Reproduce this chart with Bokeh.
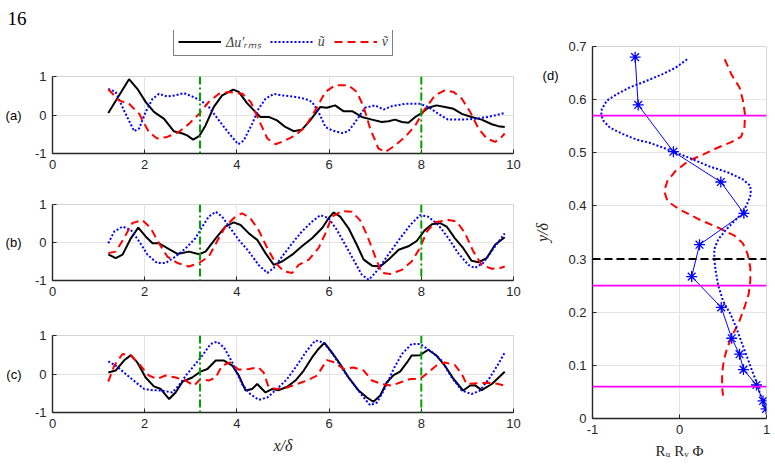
from bokeh.plotting import figure
from bokeh.layouts import row, column
from bokeh.models import Range1d, FixedTicker, Span, Label, Legend, LegendItem, LinearAxis
from bokeh.embed import file_html
from bokeh.resources import INLINE

# ---------------- data ----------------
X_TICKS = [0, 2, 4, 6, 8, 10]
Y_TICKS = [-1, 0, 1]
Y_TICK_LABELS = ["-1", "0", "1"]
MARK_X = [3.2, 8.0]
PANEL_NAMES = ["(a)", "(b)", "(c)", "(d)"]
SERIES_NAMES = ["Δu′ᵣₘₛ", "ũ", "ṽ"]
FIG_NUMBER = "16"

A_dU_x = [1.21,1.66,1.84,2.02,2.20,2.42,2.63,2.82,2.92,3.05,3.18,3.32,3.50,3.68,3.92,4.04,4.22,4.40,4.51,4.69,4.87,5.05,5.23,5.41,5.59,5.81,5.95,6.13,6.31,6.50,6.71,6.93,7.14,7.29,7.43,7.58,7.72,7.87,8.01,8.15,8.33,8.51,8.70,8.88,9.09,9.31,9.53,9.67,9.81]
A_dU_y = [0.05,0.93,0.68,0.34,0.08,-0.10,-0.42,-0.48,-0.53,-0.64,-0.55,-0.27,0.21,0.51,0.66,0.60,0.31,0.08,-0.05,-0.05,-0.14,-0.31,-0.42,-0.38,-0.14,0.21,0.19,0.25,0.10,0.10,-0.05,-0.12,-0.18,-0.16,-0.12,-0.18,-0.20,-0.05,0.05,0.19,0.25,0.21,0.16,0.03,-0.05,-0.12,-0.24,-0.29,-0.31]
A_u_x = [1.21,1.37,1.55,1.77,1.88,2.02,2.17,2.31,2.49,2.67,2.85,3.03,3.21,3.39,3.61,3.83,4.03,4.15,4.33,4.47,4.62,4.80,4.98,5.27,5.48,5.63,5.77,5.92,6.06,6.28,6.42,6.57,6.78,7.00,7.18,7.36,7.65,7.97,8.15,8.37,8.58,8.88,9.17,9.45,9.81]
A_u_y = [0.68,0.60,0.12,-0.42,-0.35,0.08,0.42,0.55,0.48,0.51,0.57,0.48,0.38,0.21,-0.14,-0.48,-0.76,-0.66,-0.23,0.16,0.42,0.55,0.51,0.47,0.42,0.34,0.08,-0.31,-0.40,-0.47,-0.42,-0.18,0.19,0.25,0.14,0.23,0.29,0.29,0.21,0.03,-0.12,-0.12,-0.10,-0.05,0.05]
A_v_x = [1.21,1.44,1.66,1.88,2.09,2.27,2.49,2.74,2.96,3.18,3.39,3.61,3.83,4.12,4.30,4.48,4.66,4.84,5.05,5.27,5.48,5.70,5.92,6.13,6.42,6.60,6.75,6.89,7.07,7.22,7.43,7.65,7.87,8.08,8.30,8.51,8.70,8.88,9.06,9.24,9.42,9.60,9.71,9.81]
A_v_y = [0.67,0.38,0.29,0.03,-0.44,-0.61,-0.57,-0.44,-0.23,0.03,0.34,0.55,0.60,0.55,0.34,-0.14,-0.61,-0.76,-0.66,-0.53,-0.31,0.12,0.60,0.77,0.77,0.60,0.21,-0.35,-0.87,-0.96,-0.79,-0.57,-0.27,0.16,0.51,0.64,0.60,0.42,0.08,-0.35,-0.61,-0.70,-0.61,-0.48]

B_dU_x = [1.21,1.37,1.52,1.70,1.86,2.02,2.17,2.31,2.49,2.71,2.96,3.18,3.32,3.54,3.75,3.93,4.08,4.26,4.44,4.62,4.80,4.98,5.20,5.41,5.63,5.85,5.99,6.10,6.24,6.42,6.60,6.75,6.93,7.11,7.29,7.51,7.72,7.90,8.08,8.23,8.41,8.55,8.73,8.91,9.09,9.24,9.42,9.60,9.81]
B_dU_y = [-0.31,-0.41,-0.32,0.11,0.39,0.16,-0.02,-0.02,-0.15,-0.30,-0.24,-0.31,-0.24,0.11,0.42,0.53,0.46,0.24,0.07,-0.28,-0.59,-0.50,-0.32,-0.10,0.11,0.38,0.64,0.79,0.68,0.38,-0.06,-0.45,-0.61,-0.63,-0.45,-0.19,-0.10,0.04,0.33,0.48,0.51,0.42,0.11,-0.15,-0.48,-0.52,-0.41,-0.06,0.14]
B_u_x = [1.21,1.34,1.52,1.70,1.88,2.06,2.27,2.45,2.67,2.89,3.10,3.25,3.39,3.54,3.68,3.83,4.04,4.26,4.47,4.66,4.80,4.98,5.20,5.41,5.63,5.81,5.99,6.17,6.35,6.57,6.71,6.86,7.00,7.18,7.36,7.54,7.76,7.97,8.15,8.37,8.59,8.80,9.02,9.16,9.34,9.60,9.81]
B_u_y = [-0.02,0.29,0.42,0.33,0.03,-0.32,-0.54,-0.54,-0.37,-0.15,0.11,0.42,0.68,0.81,0.68,0.42,0.07,-0.24,-0.59,-0.80,-0.67,-0.37,-0.02,0.29,0.55,0.72,0.64,0.33,-0.06,-0.54,-0.85,-0.98,-0.80,-0.50,-0.19,0.11,0.46,0.72,0.68,0.46,0.11,-0.28,-0.59,-0.67,-0.54,-0.10,0.24]
B_v_x = [1.21,1.37,1.55,1.73,1.95,2.13,2.31,2.49,2.71,2.96,3.18,3.39,3.57,3.75,3.93,4.11,4.29,4.47,4.66,4.84,5.02,5.20,5.34,5.56,5.77,5.92,6.06,6.28,6.49,6.67,6.82,7.00,7.14,7.32,7.58,7.79,7.97,8.12,8.30,8.59,8.77,8.95,9.13,9.31,9.53,9.71,9.81]
B_v_y = [-0.28,-0.24,0.11,0.51,0.59,0.38,-0.02,-0.37,-0.54,-0.63,-0.54,-0.37,0.03,0.42,0.64,0.77,0.64,0.33,-0.15,-0.54,-0.76,-0.80,-0.59,-0.45,-0.15,0.24,0.68,0.83,0.81,0.59,0.20,-0.37,-0.80,-0.83,-0.72,-0.50,-0.15,0.29,0.53,0.59,0.55,0.24,-0.24,-0.59,-0.69,-0.67,-0.63]

C_dU_x = [1.21,1.37,1.55,1.70,1.84,2.02,2.20,2.35,2.53,2.67,2.82,3.03,3.21,3.36,3.54,3.72,3.90,4.04,4.19,4.33,4.44,4.62,4.76,4.91,5.09,5.27,5.45,5.63,5.77,5.90,6.06,6.24,6.42,6.64,6.82,6.96,7.11,7.25,7.40,7.54,7.69,7.79,7.97,8.15,8.33,8.51,8.70,8.91,9.06,9.16,9.31,9.53,9.81]
C_dU_y = [0.04,0.09,0.35,0.49,0.30,-0.09,-0.32,-0.39,-0.65,-0.48,-0.20,-0.09,0.06,0.13,0.35,0.35,0.22,-0.04,-0.43,-0.39,-0.26,-0.48,-0.39,-0.42,-0.33,-0.17,0.09,0.43,0.65,0.81,0.56,0.26,-0.09,-0.43,-0.61,-0.72,-0.56,-0.22,-0.03,0.06,0.30,0.48,0.49,0.63,0.48,0.22,-0.13,-0.43,-0.30,-0.29,-0.42,-0.26,0.06]
C_u_x = [1.21,1.37,1.59,1.81,1.99,2.17,2.38,2.60,2.74,2.92,3.10,3.25,3.43,3.57,3.72,3.90,4.11,4.29,4.47,4.66,4.87,5.09,5.30,5.52,5.70,5.88,6.10,6.31,6.53,6.75,6.89,7.04,7.22,7.40,7.58,7.79,7.97,8.19,8.44,8.66,8.88,9.09,9.27,9.49,9.67,9.81]
C_u_y = [0.33,0.22,0.00,-0.22,-0.39,-0.42,-0.43,-0.48,-0.30,0.00,0.26,0.48,0.78,0.84,0.69,0.30,-0.26,-0.52,-0.67,-0.61,-0.39,-0.13,0.22,0.61,0.87,0.82,0.48,0.09,-0.26,-0.61,-0.81,-0.74,-0.35,0.13,0.52,0.78,0.78,0.61,0.35,-0.09,-0.43,-0.52,-0.43,-0.09,0.26,0.56]
C_v_x = [1.21,1.34,1.52,1.70,1.88,2.09,2.27,2.45,2.67,2.89,3.07,3.21,3.39,3.54,3.68,3.86,4.04,4.26,4.47,4.58,4.69,4.87,5.09,5.30,5.52,5.74,5.95,6.13,6.31,6.53,6.75,6.93,7.14,7.36,7.54,7.76,7.97,8.15,8.33,8.51,8.73,8.88,8.98,9.24,9.49,9.67,9.81]
C_v_y = [-0.20,0.22,0.52,0.48,0.26,-0.04,-0.13,-0.04,-0.09,-0.17,-0.30,-0.13,-0.17,-0.09,0.22,0.30,0.11,0.13,0.17,0.04,-0.35,-0.39,-0.35,-0.26,-0.17,-0.04,0.36,0.30,0.13,0.17,0.09,-0.17,-0.26,-0.30,-0.22,-0.13,-0.13,0.04,0.22,0.30,0.23,0.00,-0.26,-0.24,-0.23,-0.26,-0.30]

# panel (d)
D_X_TICKS = [-1, 0, 1]
D_X_TICK_LABELS = ["-1", "0", "1"]
D_Y_TICKS = [0, 0.1, 0.2, 0.3, 0.4, 0.5, 0.6, 0.7]
D_Y_TICK_LABELS = ["0", "0.1", "0.2", "0.3", "0.4", "0.5", "0.6", "0.7"]
D_NAME_Y = 0.645
D_star_x = [-0.51,-0.475,-0.07,0.475,0.74,0.23,0.14,0.48,0.60,0.69,0.735,0.885,0.96,0.995]
D_star_y = [0.68,0.59,0.502,0.445,0.386,0.327,0.267,0.209,0.151,0.121,0.092,0.063,0.033,0.018]
D_u_x = [0.087,-0.045,-0.195,-0.384,-0.572,-0.723,-0.836,-0.893,-0.90,-0.873,-0.798,-0.647,-0.497,-0.346,-0.195,-0.071,0.106,0.332,0.558,0.727,0.814,0.821,0.784,0.727,0.633,0.539,0.445,0.407,0.40,0.40,0.415,0.445,0.501,0.588,0.652,0.708,0.765,0.821,0.878,0.927,0.972,0.999]
D_u_y = [0.676,0.660,0.648,0.635,0.623,0.610,0.598,0.582,0.571,0.560,0.547,0.535,0.525,0.519,0.510,0.502,0.491,0.475,0.463,0.450,0.438,0.422,0.406,0.387,0.372,0.356,0.337,0.322,0.315,0.300,0.278,0.250,0.221,0.196,0.171,0.146,0.121,0.096,0.071,0.046,0.024,0.014]
D_v_x = [0.52,0.595,0.690,0.727,0.754,0.746,0.708,0.595,0.445,0.275,0.106,-0.045,-0.139,-0.176,-0.139,-0.007,0.219,0.445,0.633,0.727,0.784,0.814,0.814,0.795,0.746,0.690,0.615,0.550,0.509,0.490,0.490,0.501]
D_v_y = [0.676,0.648,0.623,0.600,0.571,0.547,0.530,0.520,0.510,0.497,0.485,0.466,0.447,0.428,0.409,0.394,0.375,0.359,0.344,0.330,0.309,0.284,0.259,0.234,0.209,0.184,0.159,0.134,0.109,0.084,0.058,0.043]
D_MAGENTA_Y = [0.57, 0.25, 0.06]
D_BLACK_Y = [0.3]

# ---------------- style ----------------
AX = "#262626"
GRID = "#e4e4e4"
OUTLINE = "#d4d4d4"
SANS = "Liberation Sans"
SERIF = "Liberation Serif"
GREEN = "#00a000"
STYLE_DU = dict(line_color="black", line_width=2)
STYLE_U = dict(line_color="blue", line_width=2, line_dash="2 2")
STYLE_V = dict(line_color="red", line_width=2, line_dash="8 5")
NAN = float("nan")


def style_axes(p, xt, xl, yt, yl):
    p.xaxis.ticker = FixedTicker(ticks=xt)
    p.yaxis.ticker = FixedTicker(ticks=yt)
    p.xaxis.major_label_overrides = {t: s for t, s in zip(xt, xl)}
    p.yaxis.major_label_overrides = {t: s for t, s in zip(yt, yl)}
    for ax in (p.xaxis, p.yaxis):
        ax.axis_line_color = AX
        ax.axis_line_width = 1.4
        ax.major_tick_in = 4
        ax.major_tick_out = 0
        ax.major_tick_line_color = AX
        ax.minor_tick_line_color = None
        ax.major_label_text_font = SANS
        ax.major_label_text_font_size = "13px"
        ax.major_label_text_color = AX
    p.xaxis.major_label_standoff = 6
    p.yaxis.major_label_standoff = 6
    p.xgrid.grid_line_color = GRID
    p.ygrid.grid_line_color = GRID
    p.outline_line_color = OUTLINE
    p.background_fill_color = "white"
    p.border_fill_color = "white"


def name_axis(rng_name, tick, text, standoff):
    return LinearAxis(y_range_name=rng_name, ticker=FixedTicker(ticks=[tick]),
                      major_label_overrides={tick: text},
                      axis_line_color=None, major_tick_line_color=None,
                      minor_tick_line_color=None, major_label_standoff=standoff,
                      major_label_text_font=SANS, major_label_text_font_size="13px",
                      major_label_text_color="black")


# header: figure number (title) and legend, same frame as the panels below
header = figure(width=530, height=62, x_range=Range1d(0, 10), y_range=Range1d(0, 1),
                title=FIG_NUMBER, output_backend="svg", toolbar_location=None,
                x_axis_location=None, y_axis_location=None,
                min_border_left=52, min_border_right=17, min_border_top=30, min_border_bottom=0)
header.grid.visible = False
header.outline_line_color = None
header.background_fill_color = "white"
header.border_fill_color = "white"
header.title.text_font = SERIF
header.title.text_font_size = "19px"
header.title.text_font_style = "normal"
header.title.text_color = "black"
header.title.align = "left"
header.title.offset = -45
header.title.standoff = 12
k1 = header.line([NAN], [NAN], **STYLE_DU)
k2 = header.line([NAN], [NAN], **STYLE_U)
k3 = header.line([NAN], [NAN], **STYLE_V)
legend = Legend(items=[LegendItem(label=SERIES_NAMES[0], renderers=[k1]),
                       LegendItem(label=SERIES_NAMES[1], renderers=[k2]),
                       LegendItem(label=SERIES_NAMES[2], renderers=[k3])],
                location=(121, 6), orientation="horizontal",
                glyph_width=43, glyph_height=13, label_height=13, label_width=4,
                label_standoff=5, spacing=9, padding=4, margin=0,
                label_text_font=SERIF, label_text_font_style="italic",
                label_text_font_size="14px",
                border_line_color="black", border_line_width=1,
                background_fill_color="white", background_fill_alpha=1)
header.add_layout(legend)


def make_panel(name, height, top, bottom, dU, u, v, xlabel=None):
    p = figure(width=530, height=height, x_range=Range1d(0, 10), y_range=Range1d(-1, 1),
               output_backend="svg", toolbar_location=None,
               min_border_left=52, min_border_right=17,
               min_border_top=top, min_border_bottom=bottom)
    style_axes(p, X_TICKS, [str(t) for t in X_TICKS], Y_TICKS, Y_TICK_LABELS)
    p.line(dU[0], dU[1], **STYLE_DU)
    p.line(u[0], u[1], **STYLE_U)
    p.line(v[0], v[1], **STYLE_V)
    for xm in MARK_X:
        p.add_layout(Span(location=xm, dimension="height", line_color=GREEN,
                          line_width=2, line_dash="8 3 2 3"))
    if xlabel:
        p.xaxis.axis_label = xlabel
        p.xaxis.axis_label_text_font = SERIF
        p.xaxis.axis_label_text_font_style = "italic"
        p.xaxis.axis_label_text_font_size = "16px"
        p.xaxis.axis_label_text_color = AX
        p.xaxis.axis_label_standoff = 6
    p.extra_y_ranges = {"lab": Range1d(-1, 1)}
    p.add_layout(name_axis("lab", 0, name, 4), "left")
    return p


pa = make_panel(PANEL_NAMES[0], 118, 14, 27, (A_dU_x, A_dU_y), (A_u_x, A_u_y), (A_v_x, A_v_y))
pb = make_panel(PANEL_NAMES[1], 130, 24, 30, (B_dU_x, B_dU_y), (B_u_x, B_u_y), (B_v_x, B_v_y))
pc = make_panel(PANEL_NAMES[2], 156, 25, 54, (C_dU_x, C_dU_y), (C_u_x, C_u_y), (C_v_x, C_v_y),
                xlabel="x/δ")

# panel (d)
pd = figure(width=245, height=466, x_range=Range1d(-1, 1), y_range=Range1d(0, 0.7),
            output_backend="svg", toolbar_location=None,
            min_border_left=59, min_border_right=9, min_border_top=46, min_border_bottom=48)
style_axes(pd, D_X_TICKS, D_X_TICK_LABELS, D_Y_TICKS, D_Y_TICK_LABELS)
pd.line(D_v_x, D_v_y, **STYLE_V)
pd.line(D_u_x, D_u_y, **STYLE_U)
pd.line(D_star_x, D_star_y, line_color="blue", line_width=1)
pd.scatter(D_star_x, D_star_y, marker="asterisk", size=11, line_color="blue", line_width=1.3)
for ym in D_MAGENTA_Y:
    pd.add_layout(Span(location=ym, dimension="width", line_color="#ff00ff", line_width=1.6))
for ym in D_BLACK_Y:
    pd.add_layout(Span(location=ym, dimension="width", line_color="black", line_width=2,
                       line_dash="8 4"))
pd.xaxis.axis_label = "Rᵤ Rᵥ Φ"
pd.xaxis.axis_label_text_font = SERIF
pd.xaxis.axis_label_text_font_style = "normal"
pd.xaxis.axis_label_text_font_size = "15px"
pd.xaxis.axis_label_text_color = AX
pd.xaxis.axis_label_standoff = 6
pd.extra_y_ranges = {"lab": Range1d(0, 0.7)}
dax = name_axis("lab", D_NAME_Y, PANEL_NAMES[3], 1)
dax.axis_label = "y/δ"
dax.axis_label_text_font = SERIF
dax.axis_label_text_font_style = "italic"
dax.axis_label_text_font_size = "16px"
dax.axis_label_text_color = AX
dax.axis_label_standoff = -11
pd.add_layout(dax, "left")

layout = row(column(header, pa, pb, pc), pd)
open("out.html", "w").write(file_html(layout, INLINE))
